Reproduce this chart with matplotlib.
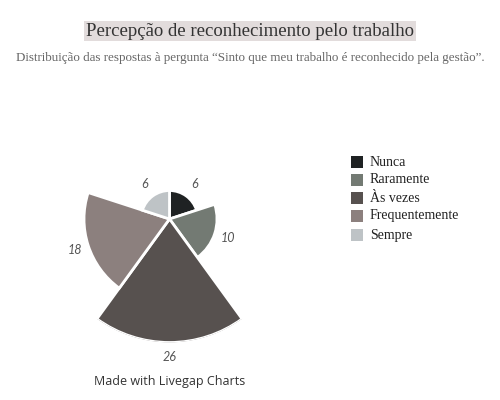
import numpy as np
import matplotlib
matplotlib.use("Agg")
import matplotlib.pyplot as plt
from matplotlib.patches import Rectangle

categories = ["Nunca", "Raramente", "Às vezes", "Frequentemente", "Sempre"]
values = [6, 10, 26, 18, 6]
colors = ["#1f2223", "#737a73", "#57514f", "#8c807e", "#bec3c6"]
title = "Percepção de reconhecimento pelo trabalho"
subtitle = "Distribuição das respostas à pergunta “Sinto que meu trabalho é reconhecido pela gestão”."
credit = "Made with Livegap Charts"

W, H = 500, 400
fig = plt.figure(figsize=(5, 4), dpi=100)
fig.patch.set_facecolor("white")

cx, cy, R = 169.5, 219, 123.5
ax = fig.add_axes([(cx - R) / W, (H - cy - R) / H, 2 * R / W, 2 * R / H], projection="polar")
ax.set_theta_zero_location("N")
ax.set_theta_direction(-1)
n = len(values)
width = 2 * np.pi / n
thetas = np.arange(n) * width
ax.bar(thetas, values, width=width, align="edge", color=colors, edgecolor="white", linewidth=2)
ax.set_ylim(0, max(values))
ax.set_axis_off()
for t, v in zip(thetas, values):
    ax.text(t + width / 2, v + 3, str(v), ha="center", va="center", fontsize=9,
            style="italic", color="#555555", family="Lato", clip_on=False)

# title with light background
fig.text(0.5, 1 - 31 / H, title, ha="center", va="center", fontsize=13.5,
         family="Liberation Serif", color="#333333",
         bbox=dict(boxstyle="square,pad=0.1", facecolor="#e2dcdc", edgecolor="none"))
fig.text(0.5, 1 - 58 / H, subtitle, ha="center", va="center", fontsize=9.4,
         family="Liberation Serif", color="#666666")

# legend
ly = [162, 180, 198, 216, 235]
for lab, c, y in zip(categories, colors, ly):
    fig.patches.append(Rectangle(((351) / W, 1 - (y + 6) / H), 12 / W, 12 / H,
                                 transform=fig.transFigure, facecolor=c, edgecolor="none"))
    fig.text(370 / W, 1 - y / H, lab, ha="left", va="center", fontsize=10,
             family="Liberation Serif", color="#222222")

fig.text(cx / W, 1 - 381 / H, credit, ha="center", va="center", fontsize=9,
         family="Open Sans", color="#333333")

fig.savefig("out.png", dpi=100)
